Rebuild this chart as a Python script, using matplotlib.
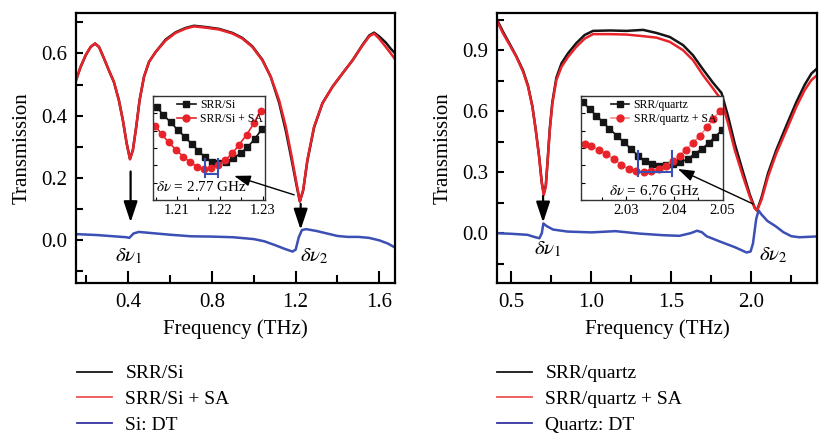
import matplotlib
matplotlib.use("Agg")
import matplotlib.pyplot as plt
from matplotlib.lines import Line2D
from matplotlib.ticker import MultipleLocator, FormatStrFormatter

plt.rcParams["font.family"] = ["Liberation Serif", "DejaVu Serif"]
plt.rcParams["mathtext.fontset"] = "stix"

# ---- left panel: SRR on Si ----
si_freq = [0.150, 0.172, 0.196, 0.220, 0.241, 0.260, 0.284, 0.307, 0.331, 0.355,
           0.374, 0.392, 0.408, 0.422, 0.438, 0.454, 0.475, 0.499, 0.531, 0.579,
           0.626, 0.674, 0.714, 0.770, 0.834, 0.898, 0.945, 0.993, 1.041, 1.081,
           1.121, 1.153, 1.181, 1.204, 1.220, 1.236, 1.256, 1.288, 1.328, 1.376,
           1.424, 1.472, 1.520, 1.552, 1.575, 1.599, 1.631, 1.655, 1.679]
si_srr = [0.514, 0.557, 0.594, 0.621, 0.632, 0.621, 0.584, 0.546, 0.509, 0.450,
          0.386, 0.312, 0.262, 0.290, 0.365, 0.450, 0.525, 0.573, 0.605, 0.645,
          0.668, 0.682, 0.689, 0.685, 0.679, 0.666, 0.650, 0.623, 0.580, 0.525,
          0.442, 0.352, 0.258, 0.178, 0.125, 0.160, 0.255, 0.362, 0.440, 0.493,
          0.536, 0.578, 0.628, 0.658, 0.667, 0.655, 0.635, 0.615, 0.598]
si_srr_sa = [0.514, 0.557, 0.594, 0.621, 0.632, 0.621, 0.584, 0.546, 0.509, 0.450,
             0.386, 0.312, 0.260, 0.290, 0.365, 0.450, 0.525, 0.573, 0.605, 0.642,
             0.666, 0.680, 0.687, 0.683, 0.677, 0.664, 0.648, 0.621, 0.578, 0.525,
             0.450, 0.365, 0.269, 0.184, 0.125, 0.162, 0.258, 0.365, 0.440, 0.493,
             0.536, 0.578, 0.626, 0.655, 0.664, 0.648, 0.621, 0.600, 0.578]
si_dt_freq = [0.150, 0.250, 0.350, 0.390, 0.405, 0.425, 0.450, 0.500, 0.600, 0.700,
              0.800, 0.900, 1.000, 1.050, 1.100, 1.150, 1.185, 1.200, 1.215, 1.230,
              1.250, 1.300, 1.350, 1.400, 1.450, 1.500, 1.550, 1.600, 1.640, 1.680]
si_dt = [0.020, 0.017, 0.012, 0.010, 0.008, 0.022, 0.027, 0.024, 0.018, 0.013,
         0.012, 0.010, 0.004, -0.003, -0.015, -0.028, -0.036, -0.030, 0.010, 0.033,
         0.036, 0.030, 0.022, 0.014, 0.011, 0.011, 0.008, 0.000, -0.010, -0.025]

# inset (zoom of the second dip)
si_in_f_black = [1.2053, 1.2068, 1.2085, 1.2102, 1.2119, 1.2134, 1.2150, 1.2165,
                 1.2181, 1.2196, 1.2214, 1.2231, 1.2248, 1.2264, 1.2281, 1.2298]
si_in_black = [0.1417, 0.1396, 0.1374, 0.1352, 0.1331, 0.1312, 0.1292, 0.1273,
               0.1260, 0.1257, 0.1260, 0.1270, 0.1285, 0.1302, 0.1326, 0.1355]
si_in_f_red = [1.2049, 1.2064, 1.2081, 1.2098, 1.2115, 1.2130, 1.2147, 1.2163,
               1.2179, 1.2196, 1.2212, 1.2229, 1.2245, 1.2262, 1.2279, 1.2295]
si_in_red = [0.1364, 0.1340, 0.1316, 0.1294, 0.1275, 0.1259, 0.1246, 0.1239,
             0.1242, 0.1251, 0.1265, 0.1285, 0.1310, 0.1338, 0.1371, 0.1408]
si_shift = [1.2165, 1.2195]  # 2.77 GHz

# ---- right panel: SRR on quartz ----
q_freq = [0.410, 0.448, 0.490, 0.531, 0.573, 0.604, 0.631, 0.652, 0.673, 0.690,
          0.702, 0.715, 0.727, 0.740, 0.756, 0.781, 0.813, 0.854, 0.906, 0.958,
          1.010, 1.115, 1.219, 1.323, 1.406, 1.490, 1.573, 1.635, 1.698, 1.760,
          1.813, 1.854, 1.896, 1.948, 1.990, 2.021, 2.035, 2.063, 2.104, 2.156,
          2.219, 2.281, 2.333, 2.375, 2.410]
q_srr = [1.050, 0.990, 0.930, 0.870, 0.800, 0.725, 0.625, 0.510, 0.380, 0.250,
         0.195, 0.235, 0.365, 0.515, 0.645, 0.765, 0.835, 0.885, 0.935, 0.975,
         0.995, 0.997, 0.995, 1.000, 0.985, 0.965, 0.925, 0.875, 0.805, 0.740,
         0.690, 0.575, 0.440, 0.300, 0.190, 0.125, 0.112, 0.175, 0.295, 0.410,
         0.530, 0.645, 0.730, 0.785, 0.810]
q_srr_sa = [1.044, 0.982, 0.925, 0.867, 0.794, 0.720, 0.622, 0.507, 0.376, 0.245,
            0.188, 0.229, 0.360, 0.507, 0.638, 0.753, 0.818, 0.867, 0.917, 0.957,
            0.979, 0.979, 0.977, 0.969, 0.962, 0.941, 0.900, 0.851, 0.777, 0.712,
            0.655, 0.540, 0.409, 0.278, 0.180, 0.123, 0.111, 0.164, 0.278, 0.393,
            0.507, 0.622, 0.704, 0.753, 0.777]
q_dt_freq = [0.410, 0.500, 0.600, 0.650, 0.675, 0.690, 0.700, 0.720, 0.760, 0.850,
             1.000, 1.150, 1.300, 1.450, 1.550, 1.620, 1.660, 1.690, 1.720, 1.800,
             1.900, 1.970, 1.995, 2.010, 2.030, 2.045, 2.060, 2.100, 2.150, 2.200,
             2.250, 2.300, 2.410]
q_dt = [0.000, -0.003, -0.008, -0.020, -0.025, 0.000, 0.048, 0.035, 0.018, 0.008,
        0.004, 0.010, -0.002, -0.010, -0.013, 0.000, 0.012, 0.005, -0.015, -0.040,
        -0.070, -0.095, -0.090, -0.050, 0.070, 0.112, 0.095, 0.060, 0.035, 0.005,
        -0.015, -0.020, -0.016]

q_in_f_black = [2.0211, 2.0225, 2.0239, 2.0253, 2.0266, 2.0282, 2.0296, 2.0311,
                2.0325, 2.0339, 2.0354, 2.0369, 2.0383, 2.0398, 2.0413, 2.0428,
                2.0442, 2.0457, 2.0471, 2.0485, 2.0499]
q_in_black = [0.1282, 0.1262, 0.1243, 0.1224, 0.1205, 0.1185, 0.1166, 0.1147,
              0.1128, 0.1113, 0.1104, 0.1099, 0.1101, 0.1104, 0.1109, 0.1118,
              0.1133, 0.1147, 0.1164, 0.1183, 0.1202]
q_in_f_red = [2.0215, 2.0228, 2.0244, 2.0259, 2.0275, 2.0290, 2.0306, 2.0321,
              2.0337, 2.0352, 2.0368, 2.0382, 2.0397, 2.0411, 2.0424, 2.0438,
              2.0453, 2.0468, 2.0481, 2.0495]
q_in_red = [0.1162, 0.1155, 0.1145, 0.1133, 0.1118, 0.1102, 0.1089, 0.1083,
            0.1080, 0.1083, 0.1089, 0.1099, 0.1113, 0.1128, 0.1144, 0.1164,
            0.1185, 0.1210, 0.1234, 0.1258]
q_shift = [2.0325, 2.0395]  # 6.76 GHz

BLACK = "#151515"
RED = "#e8232a"
BLUE = "#3c4fb4"
W, H = 820, 436


def px_axes(fig, x0, y0, x1, y1):
    return fig.add_axes([x0 / W, 1 - y1 / H, (x1 - x0) / W, (y1 - y0) / H])


def style_main(ax, xmaj, ymaj):
    for s in ax.spines.values():
        s.set_linewidth(1.6)
    ax.xaxis.set_major_locator(MultipleLocator(xmaj))
    ax.xaxis.set_minor_locator(MultipleLocator(xmaj / 2))
    ax.yaxis.set_major_locator(MultipleLocator(ymaj))
    ax.yaxis.set_minor_locator(MultipleLocator(ymaj / 2))
    ax.tick_params(which="both", direction="in", top=False, right=False, width=1.5, labelsize=15)
    ax.tick_params(axis="x", which="major", length=9, pad=7)
    ax.tick_params(axis="x", which="minor", length=5.5)
    ax.tick_params(axis="y", which="both", length=5, pad=6)
    ax.set_xlabel("Frequency (THz)", fontsize=15)
    ax.set_ylabel("Transmission", fontsize=15)
    ax.xaxis.set_label_coords(0.5, -0.135)
    ax.yaxis.set_label_coords(-0.14, 0.5)


def style_inset(ax, xlim, ylim, xmaj):
    ax.set_xlim(*xlim)
    ax.set_ylim(*ylim)
    for s in ax.spines.values():
        s.set_linewidth(1.0)
        s.set_color("#333333")
    ax.xaxis.set_major_locator(MultipleLocator(xmaj))
    ax.xaxis.set_minor_locator(MultipleLocator(xmaj / 2))
    ax.xaxis.set_major_formatter(FormatStrFormatter("%.2f"))
    ax.yaxis.set_major_locator(MultipleLocator(0.005))
    ax.tick_params(which="both", direction="in", top=False, right=False, width=0.8,
                   labelsize=10.5, pad=3)
    ax.tick_params(which="major", length=3)
    ax.tick_params(which="minor", length=2)
    ax.tick_params(axis="y", labelleft=False)


def arrow(ax, tail, tip, big=True, coords=None):
    if big:
        props = dict(arrowstyle="-|>,head_length=0.9,head_width=0.3", lw=1.6, color="k",
                     shrinkA=0, shrinkB=0, mutation_scale=14)
    else:
        props = dict(arrowstyle="-|>,head_length=0.9,head_width=0.3", lw=1.0, color="k",
                     shrinkA=0, shrinkB=0, mutation_scale=11)
    kw = {}
    if coords is not None:
        kw = dict(xycoords=coords, textcoords=coords, annotation_clip=False)
    ax.annotate("", xy=tip, xytext=tail, arrowprops=props, **kw)


fig = plt.figure(figsize=(8.2, 4.36), dpi=100)

# ---------- left ----------
ax1 = px_axes(fig, 76, 13, 395, 283)
ax1.plot(si_freq, si_srr, color=BLACK, lw=1.8)
ax1.plot(si_freq, si_srr_sa, color=RED, lw=1.8)
ax1.plot(si_dt_freq, si_dt, color=BLUE, lw=1.8)
ax1.set_xlim(0.15, 1.675)
ax1.set_ylim(-0.137, 0.73)
style_main(ax1, 0.4, 0.2)
ax1.text(0.403, -0.053, r"$\delta\nu_1$", fontsize=15, ha="center", va="center")
ax1.text(1.288, -0.053, r"$\delta\nu_2$", fontsize=15, ha="center", va="center")
arrow(ax1, (0.411, 0.221), (0.411, 0.058))
arrow(ax1, (1.224, 0.117), (1.224, 0.034))

in1 = px_axes(fig, 153, 96, 265, 200)
in1.plot(si_in_f_black, si_in_black, color=BLACK, lw=1.2, marker="s", ms=4.2)
in1.plot(si_in_f_red, si_in_red, color=RED, lw=1.2, marker="o", ms=4.6)
style_inset(in1, (1.2044, 1.2305), (0.115, 0.145), 0.01)
for xv in si_shift:
    in1.plot([xv, xv], [0.1216, 0.1268], color=BLUE, lw=1.5)
in1.plot(si_shift, [0.1225, 0.1225], color=BLUE, lw=1.5)
in1.text(0.43, 0.125, r"$\delta\nu$ = 2.77 GHz", transform=in1.transAxes, fontsize=11,
         ha="center", va="center")
in1.legend([Line2D([], [], color=BLACK, marker="s", ms=4.5, lw=1.2),
            Line2D([], [], color=RED, marker="o", ms=5, lw=1.2)],
           ["SRR/Si", "SRR/Si + SA"], loc="upper left", bbox_to_anchor=(0.14, 1.05),
           frameon=False, fontsize=8.5, handlelength=1.6, handletextpad=0.35,
           labelspacing=0.15, borderpad=0.2)
arrow(in1, (1.193, 0.146), (0.906, 0.207), big=False, coords=ax1.transData)

# ---------- right ----------
ax2 = px_axes(fig, 497, 13, 817, 283)
ax2.plot(q_freq, q_srr, color=BLACK, lw=1.8)
ax2.plot(q_freq, q_srr_sa, color=RED, lw=1.8)
ax2.plot(q_dt_freq, q_dt, color=BLUE, lw=1.8)
ax2.set_xlim(0.41, 2.41)
ax2.set_ylim(-0.245, 1.083)
style_main(ax2, 0.5, 0.3)
ax2.text(0.729, -0.082, r"$\delta\nu_1$", fontsize=15, ha="center", va="center")
ax2.text(2.135, -0.111, r"$\delta\nu_2$", fontsize=15, ha="center", va="center")
arrow(ax2, (0.698, 0.183), (0.698, 0.052))

in2 = px_axes(fig, 581, 96, 723, 200)
in2.plot(q_in_f_black, q_in_black, color=BLACK, lw=1.2, marker="s", ms=4.2)
in2.plot(q_in_f_red, q_in_red, color="#f49090", lw=1.2, marker="o", ms=4.8,
         mfc=RED, mec=RED)
style_inset(in2, (2.0207, 2.0501), (0.100, 0.130), 0.01)
for xv in q_shift:
    in2.plot([xv, xv], [0.1070, 0.1142], color=BLUE, lw=1.5)
in2.plot(q_shift, [0.1081, 0.1081], color=BLUE, lw=1.5)
in2.text(0.52, 0.09, r"$\delta\nu$ = 6.76 GHz", transform=in2.transAxes, fontsize=11,
         ha="center", va="center")
in2.legend([Line2D([], [], color=BLACK, marker="s", ms=4.5, lw=1.2),
            Line2D([], [], color="#f49090", marker="o", ms=5, lw=1.2, mfc=RED, mec=RED)],
           ["SRR/quartz", "SRR/quartz + SA"], loc="upper left", bbox_to_anchor=(0.15, 1.05),
           frameon=False, fontsize=8.5, handlelength=1.6, handletextpad=0.35,
           labelspacing=0.15, borderpad=0.2)
arrow(in2, (2.01, 0.144), (1.54, 0.316), big=False, coords=ax2.transData)

# ---------- legends below ----------
for x0, labels in [(67, ["SRR/Si", "SRR/Si + SA", "Si: DT"]),
                   (487, ["SRR/quartz", "SRR/quartz + SA", "Quartz: DT"])]:
    handles = [Line2D([], [], color=BLACK, lw=1.3),
               Line2D([], [], color="#ee5555", lw=1.3),
               Line2D([], [], color="#3333a0", lw=1.3)]
    fig.legend(handles, labels, loc="upper left", bbox_to_anchor=(x0 / W, 1 - 355 / H),
               frameon=False, fontsize=14, handlelength=1.8, handletextpad=0.7,
               labelspacing=0.42, borderpad=0.0)

fig.savefig("out.png", dpi=100)
